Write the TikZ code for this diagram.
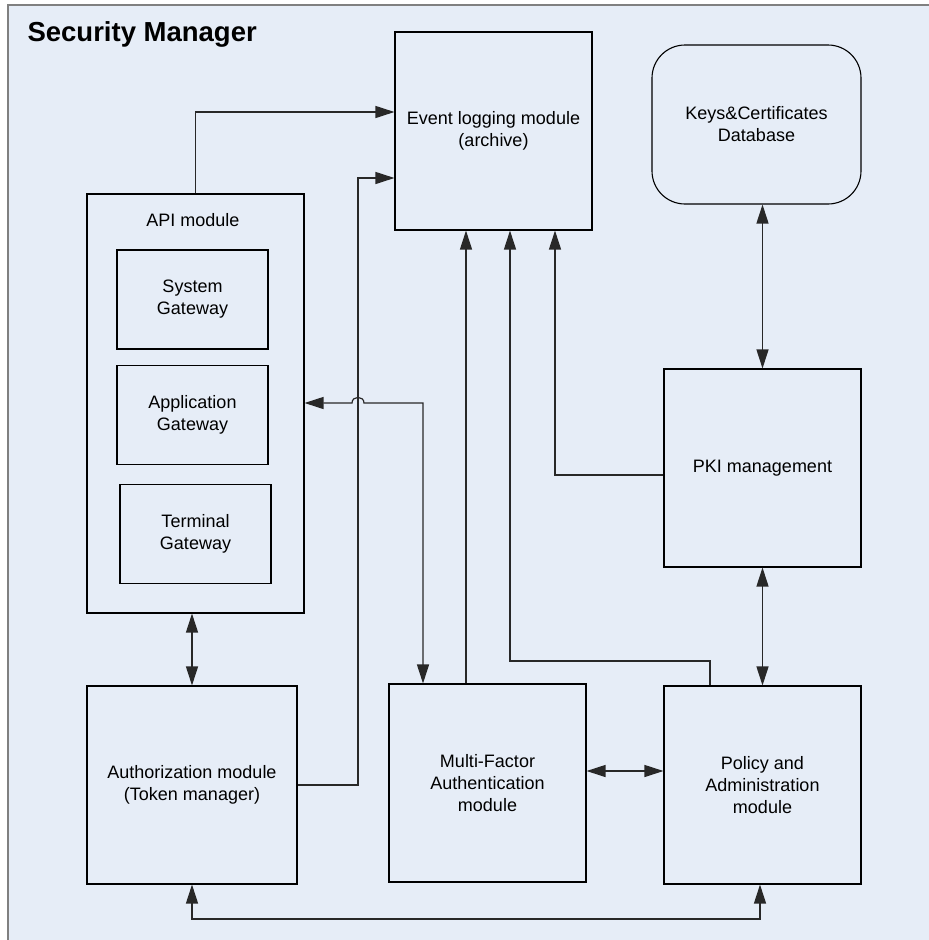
\documentclass[tikz,border=0pt]{standalone}
\usepackage{fontspec}
\setmainfont{Liberation Sans}
\usetikzlibrary{arrows.meta}
\definecolor{panelblue}{RGB}{230,237,247}
\definecolor{framegray}{RGB}{128,128,128}
\definecolor{linkgray}{RGB}{40,40,40}
\tikzstyle{module}=[draw=black,line width=1.1pt,rectangle,align=center,inner sep=0pt,font=\fontsize{18}{22}\selectfont]
\tikzstyle{gateway}=[module,minimum width=151pt,minimum height=99pt]
\tikzstyle{link}=[draw=linkgray,line width=1.2pt]
\tikzstyle{oneway}=[link,-{Triangle[length=19pt,width=12pt]}]
\tikzstyle{twoway}=[link,{Triangle[length=19pt,width=12pt]}-{Triangle[length=19pt,width=12pt]}]

\begin{document}
\begin{tikzpicture}[x=1pt,y=-1pt]
  \clip (0,0) rectangle (929,940);
  \fill[white] (0,0) rectangle (929,940);
  \filldraw[fill=panelblue,draw=framegray,line width=2pt] (8,5) rectangle (960,960);
  \node[anchor=base west,font=\fontsize{27.5}{32}\selectfont\bfseries] (title) at (24,41) {Security Manager};
  % top row
  \node[module,minimum width=197pt,minimum height=198pt] (event) at (493.5,131) {Event logging module\\(archive)};
  \node[module,rounded corners=33pt,minimum width=209pt,minimum height=159pt] (keys) at (756.5,124.5) {Keys\&Certificates\\Database};
  % API module with its gateways
  \node[module,minimum width=217pt,minimum height=419pt] (api) at (195.5,403.5) {};
  \node[anchor=base,font=\fontsize{18}{22}\selectfont] (apititle) at (193,226) {API module};
  \node[gateway] (sysgw) at (192.5,299.5) {System\\Gateway};
  \node[gateway] (appgw) at (192.5,415) {Application\\Gateway};
  \node[gateway] (termgw) at (195.5,534) {Terminal\\Gateway};
  \node[module,minimum width=197pt,minimum height=198pt] (pki) at (762.5,468) {PKI management};
  % bottom row
  \node[module,minimum width=210pt,minimum height=198pt] (auth) at (192,785) {Authorization module\\(Token manager)};
  \node[module,minimum width=197pt,minimum height=198pt] (mfa) at (487.5,783) {Multi-Factor\\Authentication\\module};
  \node[module,minimum width=197pt,minimum height=198pt] (policy) at (762.5,785) {Policy and\\Administration\\module};

  % connectors
  \draw[oneway] (api.north) |- (event.west |- 0,112);
  \draw[oneway] (auth.east) -| (358,178) -- (event.west |- 0,178);
  \draw[twoway] (api.east |- 0,403) -- (352,403) .. controls (352,395.5) and (364,395.5) .. (364,403) -| (mfa.north -| 423,0);
  \draw[oneway] (mfa.north -| 466,0) -- (event.south -| 466,0);
  \draw[oneway] (policy.north -| 710,0) |- (510,661) -- (event.south -| 510,0);
  \draw[oneway] (pki.west |- 0,475) -| (event.south -| 555,0);
  \draw[twoway] (keys.south -| pki.north) -- (pki.north);
  \draw[twoway] (pki.south) -- (policy.north);
  \draw[twoway] (api.south -| auth.north) -- (auth.north);
  \draw[twoway] (mfa.east |- 0,771) -- (policy.west |- 0,771);
  \draw[twoway] (auth.south) |- (760,919) -- (policy.south -| 760,0);
\end{tikzpicture}
\end{document}
